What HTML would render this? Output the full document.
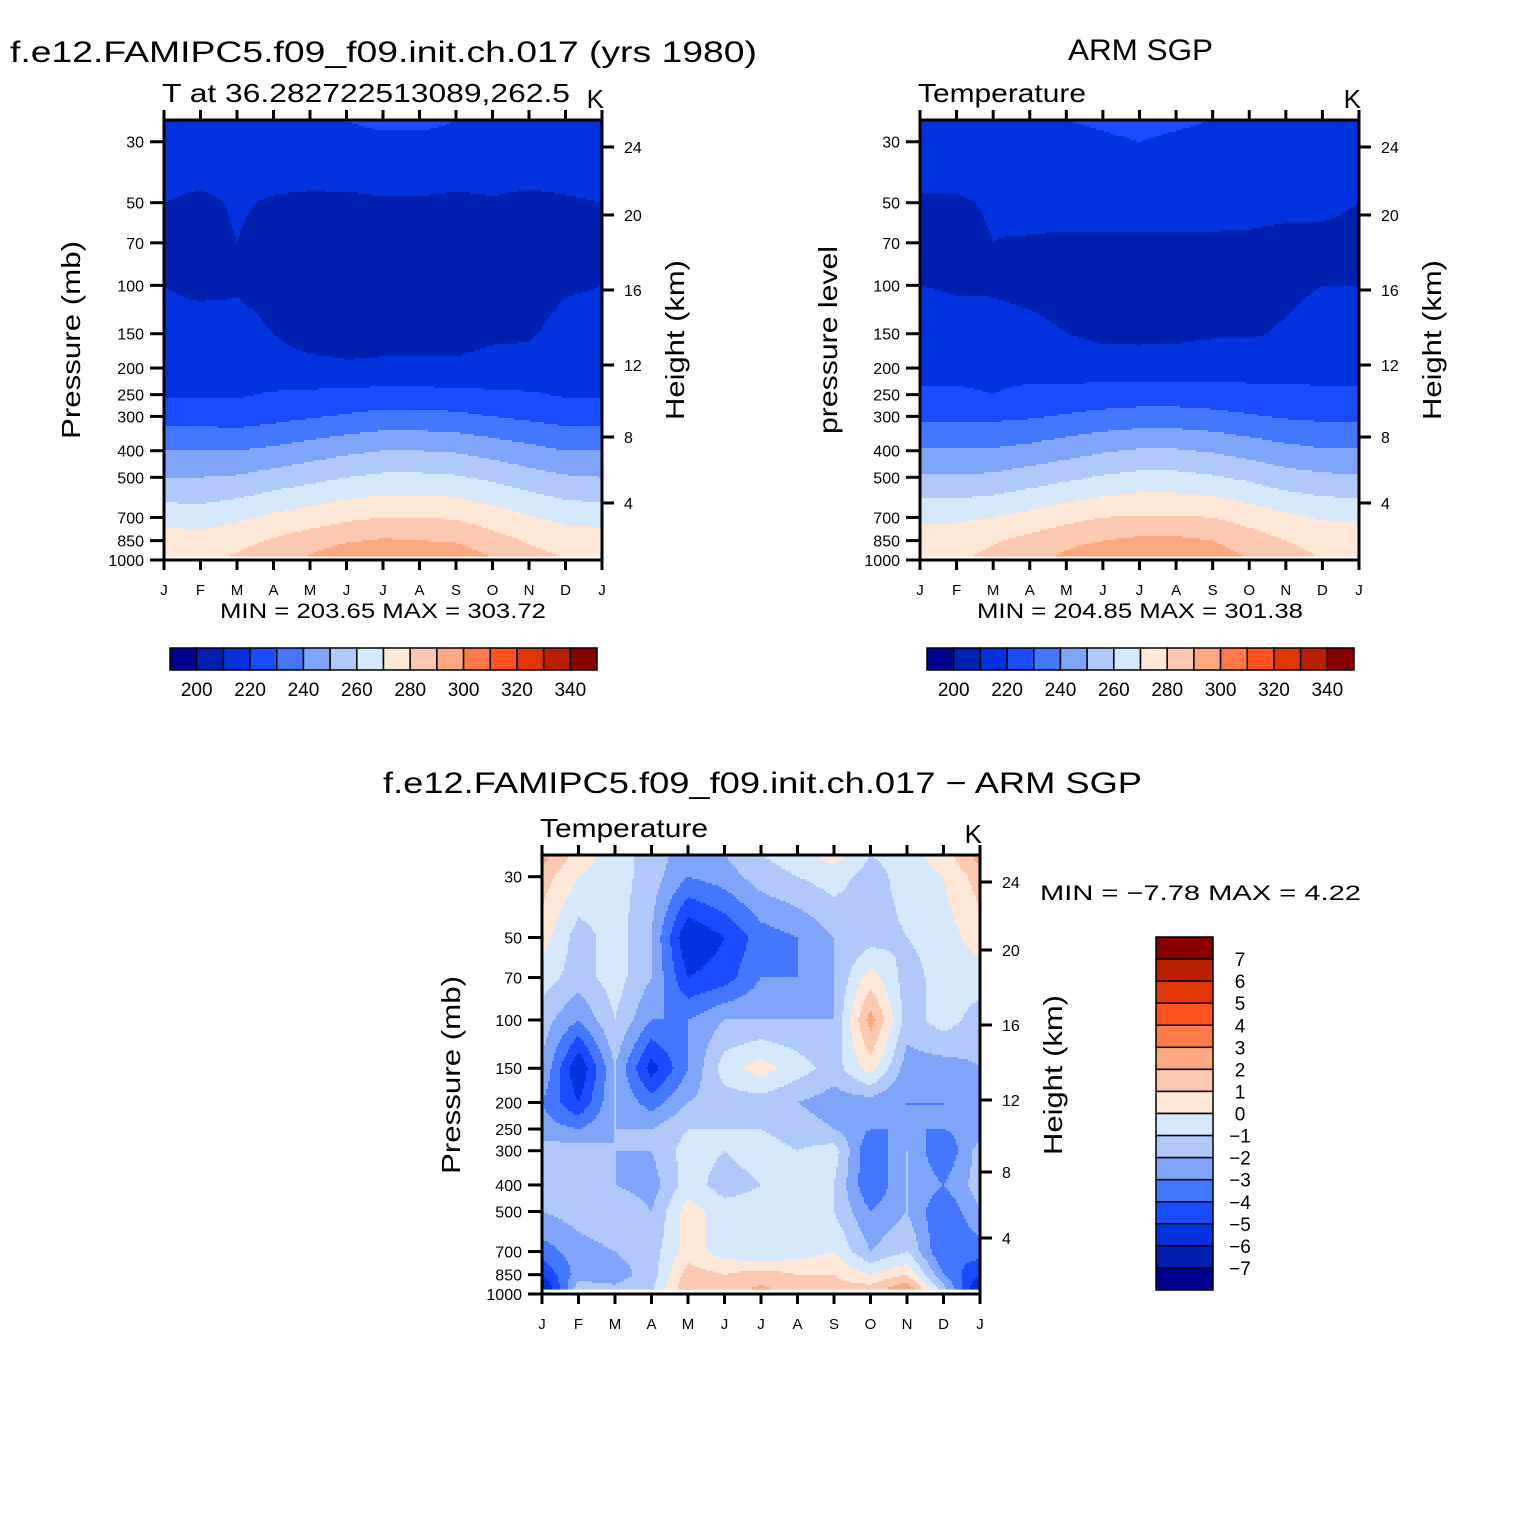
<!DOCTYPE html>
<html><head><meta charset="utf-8"><style>
html,body{margin:0;padding:0;background:#fff;}
svg text{font-family:"Liberation Sans",sans-serif;fill:#000;}
</style></head><body>
<svg id="fig" width="1524" height="1524" viewBox="0 0 1524 1524" xmlns="http://www.w3.org/2000/svg">
<rect width="1524" height="1524" fill="#fff"/>
<text x="10" y="62" font-size="30" textLength="747" lengthAdjust="spacingAndGlyphs">f.e12.FAMIPC5.f09_f09.init.ch.017 (yrs 1980)</text>
<text x="1068" y="60" font-size="30" textLength="145" lengthAdjust="spacingAndGlyphs">ARM SGP</text>
<text x="383" y="793" font-size="30" textLength="759" lengthAdjust="spacingAndGlyphs">f.e12.FAMIPC5.f09_f09.init.ch.017 − ARM SGP</text>
<g id="p1"></g>
<g id="p2"></g>
<g id="p3"></g>
<g id="cb"></g>
</svg>
<script>
const pLevels=[25,30,50,70,100,150,200,250,300,400,500,700,850,1000];
const months=["J","F","M","A","M","J","J","A","S","O","N","D","J"];
const pTicks=[30,50,70,100,150,200,250,300,400,500,700,850,1000];
const kmTicks=[24,20,16,12,8,4];
const kmY=[147,215,290,365,437,503];
const tempBounds=[200,340];
const tempLabels=[200,220,240,260,280,300,320,340];
const diffLabels=[7,6,5,4,3,2,1,0,-1,-2,-3,-4,-5,-6,-7];
const palette=["#000090","#0020b0","#0033dd","#1a4cff","#4477ff","#7fa5fa","#b0c8fa","#d5e8fc","#ffe8d8","#fcc8b0","#fca880","#ff7a48","#ff5020","#e03505","#b82000","#880000"];
const modelT=[
[218,218,218,218,219,220,221,221,220,219,218,218,218],
[217,217,217,217,218,219,219,219,219,218,217,217,217],
[210,208,211,209,208,208,209,209,208,209,208,209,210],
[208,207,210,207,206,206,206,206,206,206,206,208,208],
[210,208,209,207,205,205,205,205,205,205,206,209,210],
[213,214,213,210,207,207,208,208,208,209,209,213,213],
[216,216,216,213,212,211,211,211,211,212,213,216,216],
[219,219,219,221,222,223,224,224,223,222,221,219,219],
[226,226,225,227,229,231,233,233,232,230,228,226,226],
[240,240,240,242,245,248,250,250,249,246,243,240,240],
[250,250,251,254,257,260,262,262,261,258,254,251,250],
[266,265,268,272,275,278,280,280,279,275,271,267,266],
[275,274,277,281,285,289,291,290,289,284,279,276,275],
[279,278,282,287,292,298,303,301,297,291,284,280,279]];
const obsT=[
[219,219,219,219,220,221,222,221,220,219,219,219,219],
[216,216,216,217,218,219,220,219,218,217,216,216,216],
[209,209,211,214,215,215,215,215,215,214,213,212,210],
[207,207,210,209,208,208,208,208,208,208,207,208,207],
[210,209,209,208,207,207,207,207,207,207,208,210,210],
[215,214,213,212,210,208,208,208,209,209,211,214,215],
[218,218,218,217,216,215,214,215,216,216,217,218,218],
[221,221,220,222,223,224,225,225,224,223,222,221,221],
[228,228,228,229,231,233,234,234,233,231,229,228,228],
[241,241,241,243,246,249,251,251,249,246,243,241,241],
[251,251,252,255,258,261,263,263,261,258,254,252,251],
[268,268,270,273,277,280,281,281,280,276,272,269,268],
[276,276,279,283,287,290,292,292,290,285,280,277,276],
[278,279,283,288,293,298,301,300,296,290,284,280,278]];
const diffT=[
[2.5,0.5,-0.5,-1.5,-2.5,-2,-1,-0.5,0.5,-1,-0.5,0.5,2.5],
[1.5,0,-0.5,-1.5,-3,-2.5,-1.5,-1,-0.5,-1.5,-0.5,0,1.5],
[0.5,-1.5,-0.5,-2,-6,-5,-3.5,-3,-2,-1.5,-1,-0.5,0.5],
[-0.5,-1.5,-0.5,-2,-5,-4.5,-3,-3,-2,0.5,-1.5,-0.5,-0.5],
[-1.5,-3,-1,-3,-3,-2,-2,-2,-2,2.5,-1.5,-0.5,-1.5],
[-2,-6,-2,-5.5,-3,-0.5,0.5,-0.5,-1.5,0.5,-2.5,-2.5,-2],
[-3,-5,-2,-3.5,-2,-1.5,-1.5,-2,-2.5,-2.5,-3,-3,-3],
[-2.5,-3,-2,-2,-1,-1,-1,-1.5,-2,-3,-3,-3,-2.5],
[-1.5,-1.5,-2,-2,-0.5,-1,-0.5,-1,-0.5,-4,-2,-4,-1.5],
[-1.5,-1.5,-2,-2.5,-0.5,-1.5,-1,-0.5,-1,-4,-2,-3,-1.5],
[-2,-1.5,-1,-2,0.5,-0.5,-0.5,-0.5,-1,-3,-2,-4,-2],
[-3.5,-2.5,-2,-1.5,0.5,-0.5,-1,-0.5,0,-2,-1,-4,-3.5],
[-5,-2.5,-2.5,-1.5,1.5,1,1.5,1,1,0,1,-3,-5],
[-7,-1,-1.5,-1,2,1.5,2.5,1.5,1.5,2,3.5,-1,-7]];

const NS="http://www.w3.org/2000/svg";
function el(tag,attrs,parent){const e=document.createElementNS(NS,tag);for(const k in attrs)e.setAttribute(k,attrs[k]);parent.appendChild(e);return e;}
const LP0=Math.log(25),LP1=Math.log(1000);
function tempLevel(v){return Math.max(0,Math.min(15,Math.floor((v-200)/10)+1));}
function diffLevel(v){return Math.max(0,Math.min(15,Math.floor(v)+8));}
function sample(grid,m,lp){
  let r=0;const L=pLevels.map(Math.log);
  while(r<L.length-2&&lp>L[r+1])r++;
  let fr=(lp-L[r])/(L[r+1]-L[r]);fr=Math.max(0,Math.min(1,fr));
  m=Math.max(0,Math.min(12,m));
  let c=Math.min(11,Math.floor(m));let fc=m-c;
  const a=grid[r][c]*(1-fc)+grid[r][c+1]*fc;
  const b=grid[r+1][c]*(1-fc)+grid[r+1][c+1]*fc;
  return a*(1-fr)+b*fr;
}
function panel(g,x0,y0,w,h,grid,levFn,sub,subLen,ylab,ylabLen,xlab){
  const yOf=p=>y0+h*(Math.log(p)-LP0)/(LP1-LP0);
  const xOf=m=>x0+w*m/12;
  const fg=el('g',{},g);
  
  
  const step=2,fillH=h-5;
  function flush(py,a,b,lev){
    const r=el('rect',{x:x0+a,y:y0+py,width:b-a+0.6,height:step+0.6,fill:palette[lev]},fg);
    
    
  }
  for(let py=0;py<fillH;py+=step){
    const lp=LP0+(py+1)/h*(LP1-LP0);
    let runStart=0,runLev=-1;
    for(let px=0;px<w;px+=step){
      const m=12*(px+1)/w;const lev=levFn(sample(grid,m,lp));
      if(lev!==runLev){
        if(runLev>=0)flush(py,runStart,px,runLev);
        runStart=px;runLev=lev;
      }
    }
    if(runLev>=0)flush(py,runStart,w,runLev);
  }
  el('rect',{x:x0,y:y0,width:w,height:h,fill:"none",stroke:"#000","stroke-width":3},g);
  months.forEach((mn,i)=>{
    const x=xOf(i);
    el('line',{x1:x,y1:y0,x2:x,y2:y0-10,stroke:"#000","stroke-width":3},g);
    el('line',{x1:x,y1:y0+h,x2:x,y2:y0+h+10,stroke:"#000","stroke-width":3},g);
    const t=el('text',{x:x,y:y0+h+35,"font-size":15,"text-anchor":"middle"},g);t.textContent=mn;
    
    
  });
  pTicks.forEach(p=>{
    const y=yOf(p);
    el('line',{x1:x0-14,y1:y,x2:x0,y2:y,stroke:"#000","stroke-width":3},g);
    const t=el('text',{x:x0-20,y:y+6,"font-size":16,"text-anchor":"end"},g);t.textContent=p;
    
    
  });
  kmTicks.forEach((k,i)=>{
    const y=y0+(kmY[i]-120);
    el('line',{x1:x0+w,y1:y,x2:x0+w+12,y2:y,stroke:"#000","stroke-width":3},g);
    const t=el('text',{x:x0+w+22,y:y+6,"font-size":16},g);t.textContent=k;
    
    
  });
  let t=el('text',{x:x0-2,y:y0-18,"font-size":26,textLength:subLen,lengthAdjust:"spacingAndGlyphs"},g);t.textContent=sub;
  
  t=el('text',{x:x0+w+2,y:y0-12,"font-size":26,"text-anchor":"end"},g);t.textContent="K";
  
  const cy=y0+220;
  t=el('text',{x:xlab,y:cy+ylabLen/2,"font-size":26,textLength:ylabLen,lengthAdjust:"spacingAndGlyphs",transform:`rotate(-90 ${xlab} ${cy+ylabLen/2})`},g);t.textContent=ylab;
  
  const hx=x0+w+82;
  t=el('text',{x:hx,y:cy+80,"font-size":26,textLength:160,lengthAdjust:"spacingAndGlyphs",transform:`rotate(-90 ${hx} ${cy+80})`},g);t.textContent="Height (km)";
  
}
panel(document.getElementById('p1'),164,120,438,440,modelT,tempLevel,"T at 36.282722513089,262.5",408,"Pressure (mb)",198,80);
panel(document.getElementById('p2'),920,120,439,440,obsT,tempLevel,"Temperature",168,"pressure level",188,837);
panel(document.getElementById('p3'),542,855,438,439,diffT,diffLevel,"Temperature",168,"Pressure (mb)",198,460);

const svg=document.getElementById('fig');
function txt(x,y,s,str,len,name){const t=el('text',{x:x,y:y,"font-size":s,textLength:len,lengthAdjust:"spacingAndGlyphs"},svg);t.textContent=str;
return t;}
txt(220,618,21,"MIN = 203.65 MAX = 303.72",326,"model-minmax");
txt(977,618,21,"MIN = 204.85 MAX = 301.38",326,"obs-minmax");
txt(1040,900,21,"MIN =   −7.78  MAX =    4.22",321,"diff-minmax").setAttribute('xml:space','preserve');

const cb=document.getElementById('cb');
function hbar(x0,y0,w,h){
  const bw=w/16;
  palette.forEach((c,i)=>{
    const r=el('rect',{x:x0+i*bw,y:y0,width:bw,height:h,fill:c,stroke:"#000","stroke-width":1.5},cb);
    
    
  });
  tempLabels.forEach(v=>{
    const k=(v-tempBounds[0])/10+1;
    const t=el('text',{x:x0+k*bw,y:y0+48,"font-size":19,"text-anchor":"middle"},cb);t.textContent=v;
    
    
  });
}
hbar(170,648,427,22);
hbar(927,648,427,22);
const vbH=(1290-937)/16;
palette.slice().reverse().forEach((c,i)=>{
  const r=el('rect',{x:1156,y:937+i*vbH,width:57,height:vbH,fill:c,stroke:"#000","stroke-width":1.5},cb);
  
  
});
diffLabels.forEach(v=>{
  const k=7-v+1;
  const t=el('text',{x:1240,y:937+k*vbH+7,"font-size":19,"text-anchor":"middle"},cb);t.textContent=v<0?"−"+(-v):v;
  
  
});
</script>
</body></html>
